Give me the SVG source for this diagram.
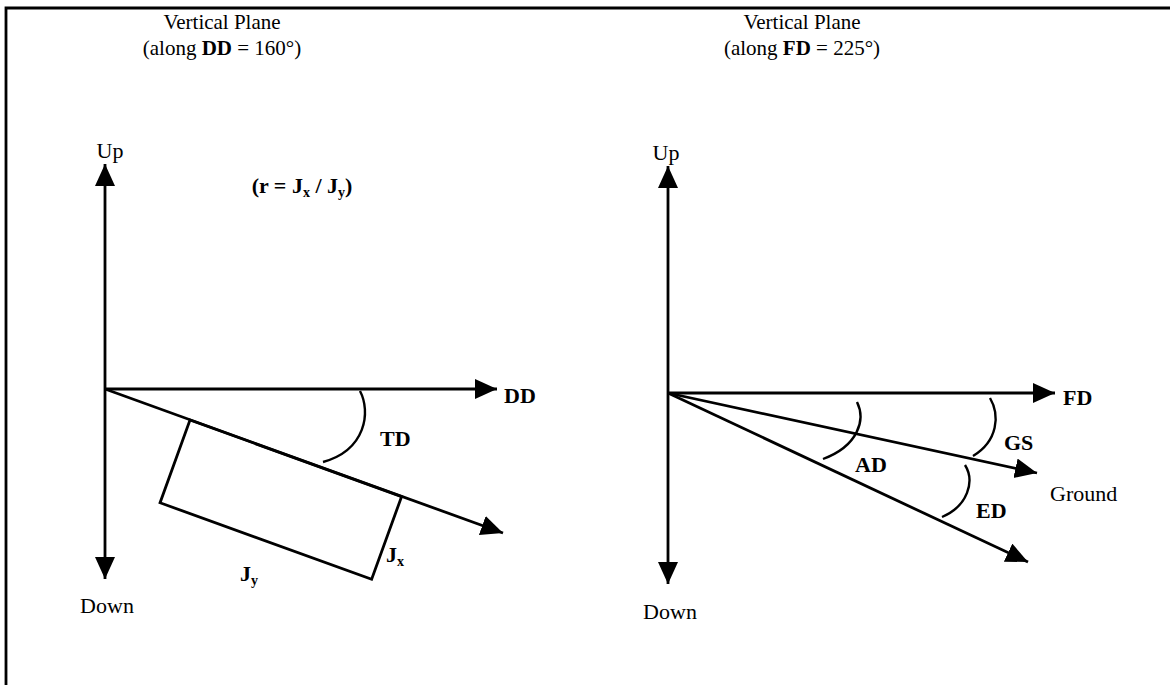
<svg xmlns="http://www.w3.org/2000/svg" width="1170" height="685" viewBox="0 0 1170 685">
<style>
text{font-family:"Liberation Serif","Times New Roman",serif;fill:#000}
.h{font-size:21px}
.t{font-size:22px}
.b{font-size:22px;font-weight:bold}
.ln{stroke:#000;stroke-width:2.8;fill:none}
.arc{stroke:#000;stroke-width:2.4;fill:none}
</style>
<defs>
<marker id="ah" markerUnits="userSpaceOnUse" markerWidth="24" markerHeight="22" refX="22" refY="10" orient="auto">
<path d="M0,0 L22,10 L0,20 z" fill="#000"/>
</marker>
</defs>
<rect width="1170" height="685" fill="#fff"/>
<g id="frame"><path d="M6,685 L6,8 L1170,8" class="ln" stroke-width="2.5"/></g>

<g id="left-title">
<text class="h" x="222" y="29" text-anchor="middle">Vertical Plane</text>
<text class="h" x="222" y="55" text-anchor="middle">(along <tspan font-weight="bold">DD</tspan> = 160°)</text>
</g>
<g id="right-title">
<text class="h" x="802" y="29" text-anchor="middle">Vertical Plane</text>
<text class="h" x="802" y="55" text-anchor="middle">(along <tspan font-weight="bold">FD</tspan> = 225°)</text>
</g>

<g id="connectors">
<line class="ln" x1="105" y1="389" x2="105" y2="164" marker-end="url(#ah)"/>
<line class="ln" x1="105" y1="389" x2="105" y2="579" marker-end="url(#ah)"/>
<line class="ln" x1="105" y1="389" x2="497" y2="389" marker-end="url(#ah)"/>
<line class="ln" x1="105" y1="389" x2="503" y2="533" marker-end="url(#ah)"/>
<path class="arc" d="M360,391 C371,412 366,450 323,462"/>

<line class="ln" x1="668" y1="393" x2="668" y2="166" marker-end="url(#ah)"/>
<line class="ln" x1="668" y1="393" x2="668" y2="584" marker-end="url(#ah)"/>
<line class="ln" x1="668" y1="393" x2="1055" y2="393" marker-end="url(#ah)"/>
<line class="ln" x1="668" y1="393" x2="1037" y2="473" marker-end="url(#ah)"/>
<line class="ln" x1="668" y1="393" x2="1028" y2="562" marker-end="url(#ah)"/>
<path class="arc" d="M857,402 C866,420 858,446 823,459"/>
<path class="arc" d="M990,398 C1000,415 998,441 973,456"/>
<path class="arc" d="M965,465 C975,481 968,506 942,517"/>
</g>

<g id="joint-block">
<rect x="190" y="420" width="225" height="88" class="ln" transform="rotate(19.89 190 420)"/>
</g>

<g id="left-labels">
<text class="t" x="110" y="158" text-anchor="middle">Up</text>
<text class="b" x="302" y="193" text-anchor="middle">(r = J<tspan font-size="14" dy="4">x</tspan><tspan dy="-4"> / J</tspan><tspan font-size="14" dy="4">y</tspan><tspan dy="-4">)</tspan></text>
<text class="b" x="504" y="403">DD</text>
<text class="b" x="380" y="446">TD</text>
<text class="b" x="386" y="562">J<tspan font-size="14" dy="4">x</tspan></text>
<text class="b" x="240" y="581">J<tspan font-size="14" dy="4">y</tspan></text>
<text class="t" x="107" y="613" text-anchor="middle">Down</text>
</g>

<g id="right-labels">
<text class="t" x="666" y="160" text-anchor="middle">Up</text>
<text class="b" x="1063" y="405">FD</text>
<text class="b" x="1004" y="450">GS</text>
<text class="t" x="1050" y="501">Ground</text>
<text class="b" x="855" y="472">AD</text>
<text class="b" x="976" y="518">ED</text>
<text class="t" x="670" y="619" text-anchor="middle">Down</text>
</g>
</svg>
